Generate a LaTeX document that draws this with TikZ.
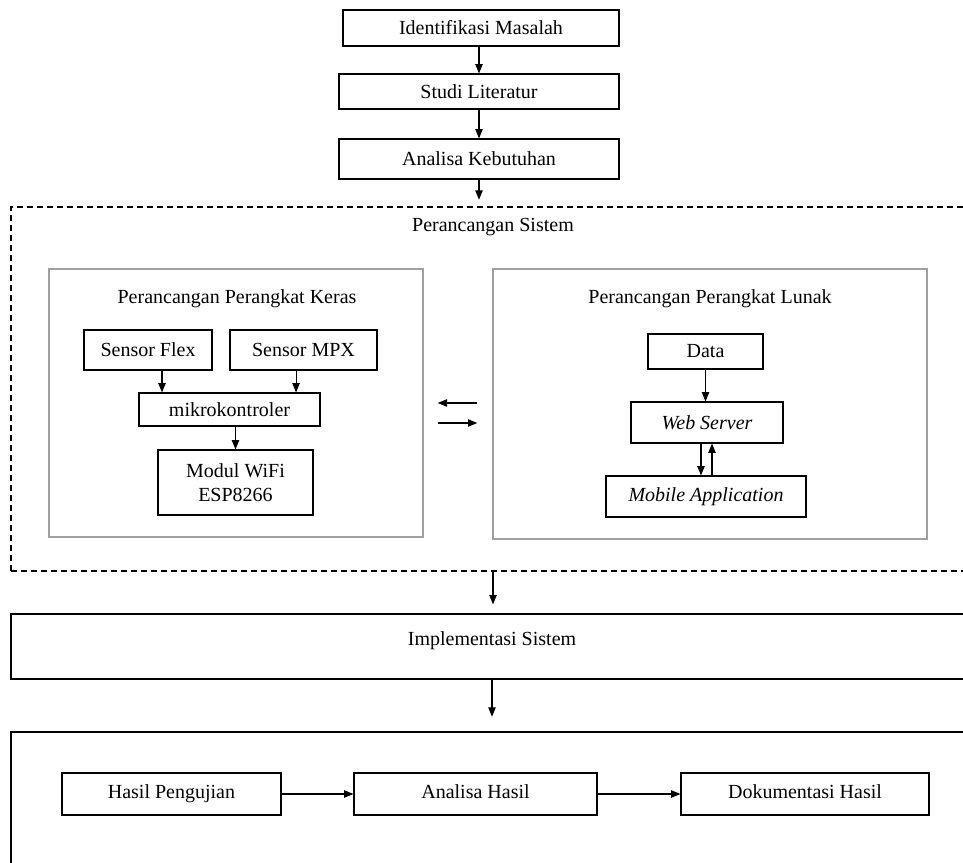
\documentclass[tikz,border=0pt]{standalone}
\usepackage{fontspec}
\setmainfont{Liberation Serif}
\usetikzlibrary{arrows.meta, positioning, calc}

\begin{document}
\begin{tikzpicture}[
    x=0.75pt, y=-0.75pt,
    >={Triangle[length=7pt, width=5.5pt]},
    font=\fontsize{15}{18}\selectfont,
    box/.style={draw=black, line width=0.8pt, inner sep=1pt, align=center},
    row/.style={box, minimum height=31.5pt, text height=10.5pt, text depth=3.5pt},
    group/.style={draw=gray!75, line width=1pt, inner sep=0pt},
    frame/.style={draw=black, line width=0.9pt, inner sep=0pt},
    flow/.style={->, line width=0.8pt}
  ]
    \useasboundingbox (0,0) rectangle (963,863);
    \clip (0,0) rectangle (963,863);

    % Tahap awal
    \node[box, minimum width=207pt, minimum height=27pt] (idm) at (481,28) {Identifikasi Masalah};
    \node[box, minimum width=210pt, minimum height=26.25pt] (studi) at (479,91.5) {Studi Literatur};
    \node[box, minimum width=210pt, minimum height=30pt] (analisa) at (479,159) {Analisa Kebutuhan};

    % Perancangan sistem (kotak putus-putus)
    \node[frame, dashed, dash pattern=on 4.5pt off 3pt, minimum width=723pt, minimum height=273pt] (sistem) at (493,389) {};
    \node (sistemtitle) at (493,227) {Perancangan Sistem};

    % Perangkat keras
    \node[group, minimum width=280.5pt, minimum height=201pt] (keras) at (236,403) {};
    \node (kerastitle) at (237,299) {Perancangan Perangkat Keras};
    \node[box, minimum width=96pt, minimum height=30pt] (flex) at (148,350) {Sensor Flex};
    \node[box, minimum width=110.25pt, minimum height=30pt] (mpx) at (303.5,350) {Sensor MPX};
    \node[box, minimum width=135.75pt, minimum height=24.75pt] (mikro) at (229.5,409.5) {mikrokontroler};
    \node[box, minimum width=116.25pt, minimum height=48.75pt] (wifi) at (235.5,482.5) {Modul WiFi\\ESP8266};

    % Perangkat lunak
    \node[group, minimum width=325.5pt, minimum height=202.5pt] (lunak) at (710,404) {};
    \node (lunaktitle) at (710,299) {Perancangan Perangkat Lunak};
    \node[box, minimum width=86.25pt, minimum height=26.25pt] (data) at (705.5,351.5) {Data};
    \node[box, minimum width=114pt, minimum height=30.75pt] (web) at (707,422.5) {\textit{Web Server}};
    \node[box, minimum width=150pt, minimum height=30.75pt] (mobile) at (706,496.5) {\textit{Mobile Application}};

    % Implementasi
    \node[frame, minimum width=721.5pt, minimum height=48.75pt] (impl) at (492,646.5) {};
    \node (impltitle) at (492,641) {Implementasi Sistem};

    % Hasil
    \node[frame, minimum width=723pt, minimum height=126pt] (hasilbox) at (493,816) {};
    \node[row, minimum width=164.25pt] (hasil) at (171.5,794) {Hasil Pengujian};
    \node[row, minimum width=182.25pt] (anhasil) at (475.5,794) {Analisa Hasil};
    \node[row, minimum width=186pt] (dok) at (805,794) {Dokumentasi Hasil};

    % Panah alur utama
    \draw[flow] (idm.south -| studi.north) -- (studi.north);
    \draw[flow] (studi.south) -- (analisa.north);
    \draw[flow, shorten >=5pt] (analisa.south) -- (analisa.south |- sistem.north);
    \draw[flow, shorten >=6.75pt] (sistem.south) -- (sistem.south |- impl.north);
    \draw[flow, shorten >=11pt] (impl.south) -- (impl.south |- hasilbox.north);

    % Panah perangkat keras
    \draw[flow] ([xshift=10.5pt]flex.south) -- ([xshift=10.5pt]flex.south |- mikro.north);
    \draw[flow] ([xshift=-5.6pt]mpx.south) -- ([xshift=-5.6pt]mpx.south |- mikro.north);
    \draw[flow] (mikro.south -| wifi.north) -- (wifi.north);

    % Panah perangkat lunak
    \draw[flow] (data.south) -- (data.south |- web.north);
    \draw[flow] ([xshift=-4.5pt]web.south) -- ([xshift=-4.5pt]web.south |- mobile.north);
    \draw[flow] ([xshift=4.5pt]mobile.north) -- ([xshift=4.5pt]mobile.north |- web.south);

    % Keras <-> lunak
    \draw[flow, shorten >=10.5pt, shorten <=11.25pt] (lunak.west |- keras.east) -- (keras.east);
    \draw[flow, shorten <=10.5pt, shorten >=11.25pt] ([yshift=-15pt]keras.east) -- ([yshift=-15pt]keras.east -| lunak.west);

    % Panah hasil
    \draw[flow] (hasil.east) -- (anhasil.west);
    \draw[flow] (anhasil.east) -- (dok.west);
  \end{tikzpicture}
\end{document}
